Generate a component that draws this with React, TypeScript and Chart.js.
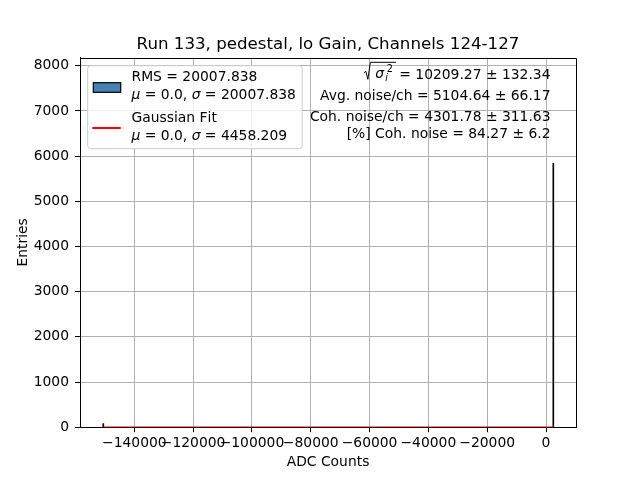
import React, { useEffect, useRef } from "react";
import { Chart, registerables } from "chart.js";

Chart.register(...registerables);

// ---------- data ----------
const TITLE = "Run 133, pedestal, lo Gain, Channels 124-127";
const X_LABEL = "ADC Counts";
const Y_LABEL = "Entries";

const binCenters = [-150540, 2483];
const binCounts = [80, 5840];

const fitX = [-150540, 2483];
const fitY = [0, 0];

const X_MIN = -158470;
const X_MAX = 10200;
const Y_MIN = 0;
const Y_MAX = 8180;
const xTicks = [-140000, -120000, -100000, -80000, -60000, -40000, -20000, 0];
const yTicks = [0, 1000, 2000, 3000, 4000, 5000, 6000, 7000, 8000];

const histLegend = ["RMS = 20007.838", "μ = 0.0, σ = 20007.838"];
const fitLegend = ["Gaussian Fit", "μ = 0.0, σ = 4458.209"];
const sqrtValue = " = 10209.27 ± 132.34";
const statLines = [
  "Avg. noise/ch = 5104.64 ± 66.17",
  "Coh. noise/ch = 4301.78 ± 311.63",
  "[%] Coh. noise = 84.27 ± 6.2",
];

const HIST_FILL = "#4682b4";
const FIT_COLOR = "#ff0000";
const FONT = "'DejaVu Sans', sans-serif";
const FS = 13.89;

function drawMixed(ctx: CanvasRenderingContext2D, text: string, x: number, y: number) {
  let cx = x;
  for (const ch of text) {
    const italic = ch === "μ" || ch === "σ";
    ctx.font = `${italic ? "italic " : ""}${FS}px ${FONT}`;
    ctx.fillText(ch, cx, y);
    cx += ctx.measureText(ch).width;
  }
}

const overlay = {
  id: "overlay",
  afterDraw(chart: any) {
    const ctx: CanvasRenderingContext2D = chart.ctx;
    const ca = chart.chartArea;
    ctx.save();
    // frame
    ctx.strokeStyle = "#000";
    ctx.lineWidth = 1;
    const l = Math.round(ca.left) + 0.5;
    const t = Math.round(ca.top) + 0.5;
    const r = Math.round(ca.right) + 0.5;
    const b = Math.round(ca.bottom) + 0.5;
    ctx.beginPath();
    ctx.moveTo(l, b);
    ctx.lineTo(l, t);
    ctx.lineTo(r, t);
    ctx.lineTo(r, b);
    ctx.stroke();

    // title
    ctx.fillStyle = "#000";
    ctx.textBaseline = "alphabetic";
    ctx.textAlign = "center";
    ctx.font = `16.67px ${FONT}`;
    ctx.fillText(TITLE, (ca.left + ca.right) / 2, ca.top - 8.3);

    // legend box
    const bx = ca.left + 7.7;
    const by = ca.top + 8.1;
    const bw = 214.5;
    const bh = 83;
    ctx.beginPath();
    (ctx as any).roundRect(bx, by, bw, bh, 3);
    ctx.fillStyle = "rgba(255,255,255,0.8)";
    ctx.fill();
    ctx.strokeStyle = "#cccccc";
    ctx.lineWidth = 1;
    ctx.stroke();

    // swatches
    ctx.fillStyle = HIST_FILL;
    ctx.fillRect(ca.left + 13.3, ca.top + 25.1, 27.4, 9.6);
    ctx.strokeStyle = "#000";
    ctx.lineWidth = 1.2;
    ctx.strokeRect(ca.left + 13.3, ca.top + 25.1, 27.4, 9.6);
    ctx.strokeStyle = FIT_COLOR;
    ctx.lineWidth = 2;
    ctx.beginPath();
    ctx.moveTo(ca.left + 12.3, ca.top + 70.4);
    ctx.lineTo(ca.left + 40.7, ca.top + 70.4);
    ctx.stroke();

    // legend text
    ctx.fillStyle = "#000";
    ctx.textAlign = "left";
    const tx = ca.left + 51.5;
    drawMixed(ctx, histLegend[0], tx, ca.top + 23.6);
    drawMixed(ctx, histLegend[1], tx, ca.top + 41.4);
    drawMixed(ctx, fitLegend[0], tx, ca.top + 64.0);
    drawMixed(ctx, fitLegend[1], tx, ca.top + 82.0);

    // stats text (right aligned)
    const rx = ca.right - 25.5;
    ctx.font = `${FS}px ${FONT}`;
    ctx.textAlign = "right";
    const y1 = ca.top + 21.2;
    ctx.fillText(sqrtValue, rx, y1);
    const xs = rx - ctx.measureText(sqrtValue).width;
    // radical with sigma_i^2
    ctx.strokeStyle = "#000";
    ctx.lineWidth = 1;
    ctx.beginPath();
    ctx.moveTo(xs - 31, y1 - 6);
    ctx.lineTo(xs - 29, y1 - 7.5);
    ctx.lineTo(xs - 27, y1 + 0.5);
    ctx.lineTo(xs - 24.5, y1 - 16.5);
    ctx.lineTo(xs + 1, y1 - 16.5);
    ctx.stroke();
    ctx.textAlign = "left";
    ctx.font = `italic ${FS}px ${FONT}`;
    ctx.fillText("σ", xs - 19.5, y1 - 1);
    ctx.font = `9.7px ${FONT}`;
    ctx.fillText("2", xs - 8, y1 - 7);
    ctx.font = `italic 9.7px ${FONT}`;
    ctx.fillText("i", xs - 9.5, y1 + 2);

    ctx.font = `${FS}px ${FONT}`;
    ctx.textAlign = "right";
    ctx.fillText(statLines[0], rx, ca.top + 42.6);
    ctx.fillText(statLines[1], rx, ca.top + 63.2);
    ctx.fillText(statLines[2], rx, ca.top + 80.0);
    ctx.restore();
  },
};

const fmt = (v: number) => (v < 0 ? "\u2212" + Math.abs(v) : String(v));

export default function App() {
  const ref = useRef<HTMLCanvasElement>(null);
  useEffect(() => {
    if (!ref.current) return;
    Chart.defaults.font.family = FONT;
    Chart.defaults.color = "#000";
    const chart = new Chart(ref.current, {
      type: "bar",
      data: {
        datasets: [
          {
            type: "line",
            label: "Gaussian Fit",
            data: fitX.map((x, i) => ({ x, y: fitY[i] })),
            borderColor: FIT_COLOR,
            borderWidth: 1.5,
            pointRadius: 0,
            order: 0,
          } as any,
          {
            type: "bar",
            label: "RMS",
            data: binCenters.map((x, i) => ({ x, y: binCounts[i] })),
            backgroundColor: "#000",
            borderWidth: 0,
            barThickness: 1,
            order: 1,
          } as any,
        ],
      },
      options: {
        responsive: false,
        animation: false,
        devicePixelRatio: 1,
        layout: { padding: { top: 57.6, right: 64, left: 0, bottom: 0 } },
        plugins: {
          legend: { display: false },
          title: { display: false },
          tooltip: { enabled: false },
        },
        scales: {
          x: {
            type: "linear",
            min: X_MIN,
            max: X_MAX,
            offset: false,
            grid: {
              offset: false,
              color: "#b0b0b0",
              lineWidth: 1,
              tickColor: "#000",
              tickLength: 5,
            },
            border: { color: "#000", width: 1 },
            afterBuildTicks: (s: any) => {
              s.ticks = xTicks.map((value) => ({ value }));
            },
            ticks: {
              autoSkip: false,
              maxRotation: 0,
              minRotation: 0,
              padding: 3,
              color: "#000",
              font: { size: FS, family: FONT },
              callback: (v: any) => fmt(Number(v)),
            },
            title: {
              display: true,
              text: X_LABEL,
              color: "#000",
              font: { size: FS, family: FONT },
              padding: { top: 0, bottom: 9.7 },
            },
            afterFit: (s: any) => {
              s.height = 52.8;
            },
          },
          y: {
            type: "linear",
            min: Y_MIN,
            max: Y_MAX,
            grid: {
              color: "#b0b0b0",
              lineWidth: 1,
              tickColor: "#000",
              tickLength: 5,
            },
            border: { color: "#000", width: 1 },
            afterBuildTicks: (s: any) => {
              s.ticks = yTicks.map((value) => ({ value }));
            },
            ticks: {
              autoSkip: false,
              padding: 6,
              color: "#000",
              font: { size: FS, family: FONT },
              callback: (v: any) => fmt(Number(v)),
            },
            title: {
              display: true,
              text: Y_LABEL,
              color: "#000",
              font: { size: FS, family: FONT },
              padding: { top: 14.7, bottom: 0 },
            },
            afterFit: (s: any) => {
              s.width = 80;
            },
          },
        },
      } as any,
      plugins: [overlay],
    });
    return () => chart.destroy();
  }, []);
  return (
    <div style={{ position: "absolute", left: 0, top: 0, width: 640, height: 480, background: "#fff" }}>
      <canvas ref={ref} width={640} height={480} style={{ width: 640, height: 480, display: "block" }} />
    </div>
  );
}
